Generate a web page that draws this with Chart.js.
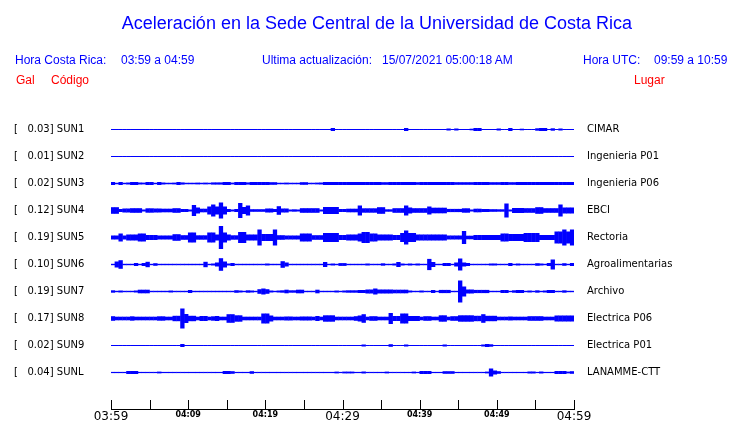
<!DOCTYPE html>
<html lang="es">
<head>
  <meta charset="UTF-8">
  <title>Aceleración en la Sede Central</title>
  <script src="https://cdn.jsdelivr.net/npm/chart.js"></script>
  <style>
    body {
      margin: 0;
      background: #fff;
      font-family: "Liberation Sans", Arial, sans-serif;
    }
    .wrap {
      position: relative;
      width: 740px;
      height: 423px;
    }
    .txt {
      position: absolute;
      white-space: nowrap;
      font-size: 12px;
      line-height: 14px;
      color: #0000ff;
    }
    .title {
      left: 0;
      width: 754px;
      text-align: center;
      top: 12px;
      font-size: 18px;
      line-height: 22px;
    }
    .red { color: #ff0000; }
  </style>
</head>
<body>
  <div class="wrap">
    <canvas id="sismo"></canvas>
    <div class="txt title">Aceleración en la Sede Central de la Universidad de Costa Rica</div>
    <div class="txt" style="left:15px;top:53px">Hora Costa Rica:</div>
    <div class="txt" style="left:121px;top:53px">03:59 a 04:59</div>
    <div class="txt" style="left:262px;top:53px">Ultima actualización:</div>
    <div class="txt" style="left:382px;top:53px">15/07/2021 05:00:18 AM</div>
    <div class="txt" style="left:583px;top:53px">Hora UTC:</div>
    <div class="txt" style="left:654px;top:53px">09:59 a 10:59</div>
    <div class="txt red" style="left:16px;top:73px">Gal</div>
    <div class="txt red" style="left:51px;top:73px">Código</div>
    <div class="txt red" style="left:634px;top:73px">Lugar</div>
  </div>

  <script>
    // estaciones, de arriba hacia abajo
    const stations = ['SUN1', 'SUN2', 'SUN3', 'SUN4', 'SUN5', 'SUN6', 'SUN7', 'SUN8', 'SUN9', 'SUNL'];
    const peaks = [0.03, 0.01, 0.02, 0.12, 0.19, 0.10, 0.19, 0.17, 0.02, 0.04];
    const places = ['CIMAR', 'Ingenieria P01', 'Ingenieria P06', 'EBCI', 'Rectoria',
      'Agroalimentarias', 'Archivo', 'Electrica P06', 'Electrica P01', 'LANAMME-CTT'];
    const timeLabels = ['03:59', '04:09', '04:19', '04:29', '04:39', '04:49', '04:59'];

    // ruido de fondo (media amplitud) de cada estacion
    const baseAmp = [0.5, 0.5, 0.75, 1, 1.8, 0.7, 0.7, 1.8, 0.5, 0.6];

    // rafagas: [bin inicial, bin final, media amplitud], bins de 30 s desde 03:59
    const sun1 = [[57,57,1.5],[76,76,1.5],[87,87,1],[89,89,1],[93,93,0.8],[94,95,1.5],[100,100,1],
      [103,103,1.5],[106,106,0.8],[110,110,1.2],[111,112,1.5],[114,114,1.2],[116,116,1]];
    const sun2 = [];
    const sun3 = [[0,0,1.5],[2,2,1.5],[4,4,1],[5,6,1.5],[7,7,1],[8,8,0.9],[9,10,1.5],[12,12,1.5],[13,13,1],
      [16,16,0.9],[17,17,1.5],[18,18,1.1],[22,22,0.9],[24,24,0.9],[26,26,1.1],[27,28,1.1],[29,30,1.5],
      [31,31,0.9],[32,34,1.5],[35,35,1.1],[36,40,1.5],[41,42,1.3],[45,45,0.9],[49,50,1.3],[53,53,0.9],
      [54,54,1],[55,59,1.5],[60,67,1.5],[68,69,1.5],[70,71,1.3],[72,78,1.5],[79,79,1.3],[80,84,1.5],
      [85,88,1.5],[89,91,1.3],[92,93,1.3],[94,97,1.5],[98,100,1.3],[101,102,1.5],[103,104,1.3],
      [105,107,1.5],[108,112,1.5],[113,117,1.5],[118,119,1.5]];
    const sun4 = [[0,1,3.3],[2,2,1.5],[3,4,2],[5,7,2.3],[9,10,2.2],[11,12,2],[13,15,1.8],[16,17,2.3],
      [18,19,1.5],[21,21,5.5],[22,22,3],[23,24,1.8],[25,25,4],[26,26,6],[27,27,4],[28,28,8],[29,29,4],
      [30,30,1.5],[32,32,1.5],[33,33,7.5],[34,34,3.5],[35,35,5],[36,39,1.3],[40,41,2],[42,42,1.5],
      [43,43,4.3],[44,45,2],[47,47,1.2],[49,53,2.3],[55,58,3.5],[59,60,1.5],[61,63,1.8],[64,64,5],
      [65,68,2.2],[69,70,3.3],[71,72,1.2],[73,75,2.3],[76,76,5],[77,77,3],[78,81,2.3],[82,82,4],
      [83,86,2.8],[87,90,1.6],[91,92,2.2],[94,95,1.8],[96,97,1.5],[98,99,1.3],[100,101,1.2],[102,102,7],
      [104,106,2.5],[107,109,2.3],[110,111,3.3],[112,115,2.3],[116,116,6],[117,119,3]];
    const sun5 = [[0,1,2],[2,2,4],[3,3,2],[4,6,3],[7,8,4],[9,11,2.5],[12,15,2],[16,17,3.3],[18,19,2.3],
      [20,21,5],[22,24,2.2],[25,26,5],[27,27,3],[28,28,11.5],[29,29,5],[30,30,3],[31,32,2.2],[33,34,5.5],
      [35,37,3],[38,38,8],[39,41,3.5],[42,42,8],[43,44,2.3],[45,48,2],[49,51,4],[52,54,2.3],[55,58,4.5],
      [59,60,2.5],[61,63,3],[64,64,4],[65,66,5.5],[67,68,4],[69,72,3],[73,74,2.5],[75,75,4.5],[76,76,7],
      [77,78,4.5],[79,86,3],[87,90,2],[91,91,6.5],[92,93,1.8],[94,100,2.5],[101,102,4],[103,106,3.5],
      [107,110,4.5],[111,114,2.5],[115,116,6],[117,117,8],[118,118,6],[119,119,8]];
    const sun6 = [[1,1,3],[2,2,4.3],[6,6,1.5],[8,8,1.5],[9,9,2.7],[11,11,1.3],[24,24,2.7],[26,26,1],
      [27,27,2],[28,28,6.3],[29,29,3],[30,30,1],[31,31,1.5],[40,40,1],[44,44,3.3],[45,45,2],[55,55,2.5],
      [57,57,1],[59,60,1.4],[66,66,1],[70,70,1.2],[73,73,1],[74,74,2.5],[75,75,1],[77,77,1],[79,79,1],
      [82,82,5.6],[83,83,2.5],[86,87,1.5],[89,89,2],[90,90,6],[91,91,2],[92,92,1.5],[98,98,1],[99,99,1],
      [103,103,1.5],[105,105,1],[110,110,1.3],[111,111,1],[113,113,1.5],[114,114,5],[117,117,1.3],
      [119,119,1.5]];
    const sun7 = [[0,0,1.2],[2,2,1],[6,6,1],[7,9,1.8],[15,15,1],[20,20,1.5],[32,32,1.3],[33,33,1],
      [35,35,1.2],[36,36,1],[38,38,2.3],[39,39,3],[40,40,2.3],[41,41,1],[43,43,1],[44,44,1.2],[45,45,1.8],
      [46,47,1.2],[48,49,1.8],[53,53,1.8],[58,58,1],[60,60,1],[61,63,1.2],[64,65,1.5],[66,67,2],[68,68,3],
      [69,72,2],[73,76,1.8],[77,77,1],[80,80,1],[83,83,1.5],[85,87,1.6],[90,90,11],[91,91,5],[92,93,2],
      [94,97,1.6],[101,102,1.5],[104,104,1.2],[105,106,1.5],[108,108,1],[110,110,1.2],[112,112,1],
      [113,114,1.5],[117,117,1.2]];
    const sun8 = [[0,0,2.3],[5,5,2.2],[12,13,2.2],[16,17,2.7],[18,18,10],[19,19,4.5],[20,21,2.7],
      [23,24,2.5],[26,26,2.2],[27,27,2.5],[30,31,4.3],[32,33,3.2],[39,40,5],[41,41,3],[45,46,2],[49,51,2],
      [53,53,2.5],[55,57,3.2],[63,63,2.3],[64,64,3],[65,65,4.3],[67,68,2.3],[72,72,5.5],[73,74,2.5],
      [75,76,5],[77,79,2.5],[81,82,2.3],[85,86,3.2],[88,89,2.3],[90,93,3.2],[94,95,2.7],[96,96,4.3],
      [97,99,2.7],[103,103,2],[108,111,2.3],[115,119,3]];
    const sun9 = [[18,18,1.5],[65,65,1],[72,72,1.3],[76,76,1],[86,86,1],[96,96,1],[97,97,1.5],[98,98,1.2]];
    const sunl = [[4,5,1.5],[6,6,1.5],[12,12,0.9],[29,30,1.5],[31,31,1.3],[36,36,1.3],[58,58,0.9],
      [60,60,0.9],[61,61,0.9],[62,62,0.9],[65,65,1],[71,71,0.9],[78,78,0.9],[80,82,1.5],[86,88,1.3],
      [97,97,0.9],[98,98,4],[99,99,2],[100,100,1.3],[108,108,1],[109,109,1],[111,111,1],[115,117,1.5],
      [118,118,0.9],[119,119,1.3]];

    const bursts = [sun1, sun2, sun3, sun4, sun5, sun6, sun7, sun8, sun9, sunl];
    const nBins = 120;      // 60 min / 30 s
    const binMin = 0.5;     // minutos por bin
    const gap = 27;         // separacion vertical entre trazas

    const centers = stations.map((s, i) => gap * (stations.length - 1 - i));

    const datasets = stations.map((s, i) => {
      const amps = new Array(nBins).fill(baseAmp[i]);
      bursts[i].forEach(([a, b, v]) => {
        for (let k = a; k <= b; k++) amps[k] = Math.max(amps[k], v);
      });
      const c = centers[i];
      return {
        label: s,
        data: amps.map((v, k) => ({ x: (k + 0.5) * binMin, y: [c - v, c + v] })),
        backgroundColor: '#0000ff',
        borderWidth: 0,
        inflateAmount: 0,
        barPercentage: 1.12,
        categoryPercentage: 1,
        grouped: false
      };
    });

    const setTicks = (scale) => {
      scale.ticks = centers.map(v => ({ value: v }));
    };

    // marcas del eje de tiempo hacia arriba
    const tickMarks = {
      id: 'tickMarks',
      afterDraw(chart) {
        const xs = chart.scales.x;
        const ctx = chart.ctx;
        ctx.save();
        ctx.strokeStyle = '#000';
        ctx.lineWidth = 1;
        ctx.beginPath();
        xs.ticks.forEach((t, i) => {
          const px = Math.round(xs.getPixelForTick(i)) + 0.5;
          ctx.moveTo(px, xs.top);
          ctx.lineTo(px, xs.top - 9);
        });
        ctx.stroke();
        ctx.restore();
      }
    };

    new Chart(document.getElementById('sismo'), {
      type: 'bar',
      data: { datasets },
      plugins: [tickMarks],
      options: {
        responsive: true,
        maintainAspectRatio: false,
        animation: false,
        layout: { padding: { left: 14, top: 100, right: 0, bottom: 0 } },
        plugins: {
          legend: { display: false },
          tooltip: { enabled: false }
        },
        scales: {
          x: {
            type: 'linear',
            min: 0,
            max: 60,
            offset: false,
            afterFit: (s) => { s.height = 14; },
            grid: { display: false, drawTicks: false, offset: false },
            border: { display: true, color: '#000', width: 1 },
            ticks: {
              stepSize: 5,
              autoSkip: false,
              maxRotation: 0,
              padding: 1,
              color: '#000',
              font: (ctx) => (ctx.tick && ctx.tick.value % 30 === 0)
                ? { family: 'DejaVu Sans', size: 12 }
                : { family: 'DejaVu Sans', size: 8, weight: 'bold' },
              callback: (v) => v % 10 === 0 ? timeLabels[v / 10] : ''
            }
          },
          y: {
            position: 'left',
            min: -36.5,
            max: 272.5,
            afterFit: (s) => { s.width = 97; s.paddingTop = 0; s.paddingBottom = 0; },
            afterBuildTicks: setTicks,
            grid: { display: false, drawTicks: false },
            border: { display: false },
            ticks: {
              autoSkip: false,
              crossAlign: 'far',
              color: '#000',
              font: { family: 'DejaVu Sans', size: 10 },
              callback: (v) => {
                const i = centers.indexOf(v);
                return '[   ' + peaks[i].toFixed(2) + '] ' + stations[i];
              }
            }
          },
          y2: {
            position: 'right',
            min: -36.5,
            max: 272.5,
            afterFit: (s) => { s.width = 166; s.paddingTop = 0; s.paddingBottom = 0; },
            afterBuildTicks: setTicks,
            grid: { display: false, drawTicks: false },
            border: { display: false },
            ticks: {
              autoSkip: false,
              padding: 13,
              color: '#000',
              font: { family: 'DejaVu Sans', size: 10 },
              callback: (v) => places[centers.indexOf(v)]
            }
          }
        }
      }
    });
  </script>
</body>
</html>
